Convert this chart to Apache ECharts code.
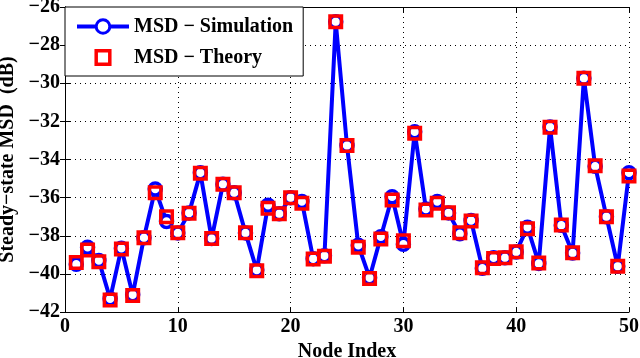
<!DOCTYPE html>
<html>
<head>
<meta charset="utf-8">
<script src="https://cdn.jsdelivr.net/npm/echarts@6/dist/echarts.min.js"></script>
<style>html,body{margin:0;padding:0;background:#fff}#c{width:640px;height:358px}</style>
</head>
<body>
<div id="c"></div>
<script>
const nodes = [1,2,3,4,5,6,7,8,9,10,11,12,13,14,15,16,17,18,19,20,21,22,23,24,25,26,27,28,29,30,31,32,33,34,35,36,37,38,39,40,41,42,43,44,45,46,47,48,49,50];
const msdSimulation = [-39.5,-38.6,-39.3,-41.3,-38.65,-41.1,-38.1,-35.55,-37.25,-37.85,-36.8,-34.7,-38.15,-35.3,-35.75,-37.85,-39.8,-36.4,-36.85,-36.0,-36.2,-39.2,-39.05,-26.78,-33.27,-38.5,-40.2,-38.05,-35.95,-38.45,-32.55,-36.6,-36.2,-36.8,-37.9,-37.2,-39.7,-39.15,-39.15,-38.85,-37.55,-39.45,-32.3,-37.45,-38.9,-29.74,-34.35,-37.0,-39.6,-34.7];
const msdTheory = [-39.4,-38.75,-39.36,-41.37,-38.7,-41.14,-38.1,-35.74,-37.0,-37.84,-36.82,-34.72,-38.15,-35.3,-35.74,-37.84,-39.84,-36.56,-36.84,-36.0,-36.29,-39.22,-39.07,-26.78,-33.27,-38.6,-40.24,-38.17,-36.13,-38.26,-32.62,-36.65,-36.3,-36.79,-37.84,-37.23,-39.68,-39.19,-39.16,-38.84,-37.63,-39.43,-32.31,-37.44,-38.89,-29.74,-34.33,-37.0,-39.6,-34.86];
const xTicks = [0,10,20,30,40,50];
const yTicks = [-42,-40,-38,-36,-34,-32,-30,-28,-26];

const FONT = '"Liberation Serif","Times New Roman",serif';
const fmt = v => v < 0 ? '\u2212' + Math.abs(v) : String(v);
const txt = {fontFamily:FONT, fontSize:20, fontWeight:'bold', color:'#000'};

const chart = echarts.init(document.getElementById('c'), null, {renderer:'canvas'});
const axisBase = {
  axisLine: {show:true, lineStyle:{color:'#000', width:1}},
  axisTick: {show:true, inside:true, length:5, lineStyle:{color:'#000'}},
};
chart.setOption({
  animation: false,
  backgroundColor: '#fff',
  grid: {left:65, right:11, top:7, bottom:46, containLabel:false, outerBoundsMode:'none'},
  legend: {
    orient:'vertical', left:65, top:7,
    backgroundColor:'#fff', borderColor:'#000', borderWidth:1, borderRadius:0,
    padding:[9.5, 10, 8.5, 10],
    itemWidth:52, itemHeight:17, itemGap:11,
    textStyle:txt,
    data:[
      {name:'MSD \u2212 Simulation', itemStyle:{borderWidth:3, borderColor:'#0000ff', color:'#ffffff'}, lineStyle:{width:4, color:'#0000ff'}},
      {name:'MSD \u2212 Theory', itemStyle:{borderWidth:3.5, borderColor:'#ff0000', color:'#ffffff'}, lineStyle:{opacity:0}}
    ]
  },
  xAxis: [
    Object.assign({}, axisBase, {
      type:'value', min:xTicks[0], max:xTicks[xTicks.length-1], interval:10,
      name:'Node Index', nameLocation:'middle', nameGap:26,
      nameTextStyle:txt,
      axisLabel:Object.assign({margin:5}, txt),
      splitLine:{show:true, lineStyle:{color:'#000', width:1, type:[1,4]}}
    }),
    Object.assign({}, axisBase, {
      type:'value', position:'top', min:xTicks[0], max:xTicks[xTicks.length-1], interval:10,
      axisLabel:{show:false}, splitLine:{show:false}
    })
  ],
  yAxis: [
    Object.assign({}, axisBase, {
      type:'value', min:yTicks[0], max:yTicks[yTicks.length-1], interval:2,
      name:'Steady\u2212state MSD  (dB)', nameLocation:'middle', nameGap:45,
      nameTextStyle:txt,
      axisLabel:Object.assign({margin:5, formatter:fmt}, txt),
      splitLine:{show:true, lineStyle:{color:'#000', width:1, type:[1,4]}}
    }),
    Object.assign({}, axisBase, {
      type:'value', position:'right', min:yTicks[0], max:yTicks[yTicks.length-1], interval:2,
      axisLabel:{show:false}, splitLine:{show:false}
    })
  ],
  series: [
    {
      name:'MSD \u2212 Simulation', type:'line',
      data: nodes.map((n,i)=>[n, msdSimulation[i]]),
      symbol:'circle', symbolSize:12, showAllSymbol:true,
      lineStyle:{color:'#0000ff', width:4},
      itemStyle:{color:'#ffffff', borderColor:'#0000ff', borderWidth:3.5},
      z:2
    },
    {
      name:'MSD \u2212 Theory', type:'line',
      data: nodes.map((n,i)=>[n, msdTheory[i]]),
      symbol:'rect', symbolSize:11.5, showAllSymbol:true,
      lineStyle:{color:'rgba(0,0,0,0)', width:0, opacity:0},
      itemStyle:{color:'rgba(255,255,255,0)', borderColor:'#ff0000', borderWidth:3.5},
      z:3
    }
  ]
});
</script>
</body>
</html>
